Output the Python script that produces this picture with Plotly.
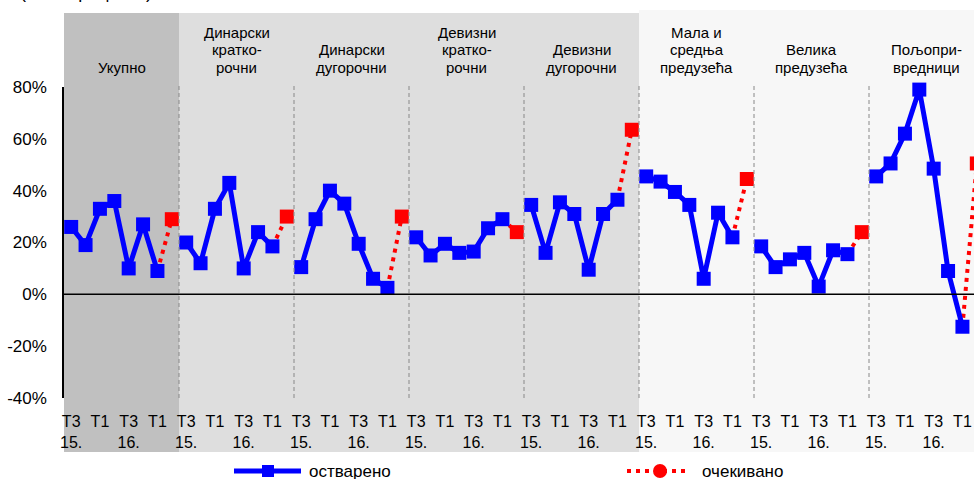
import plotly.graph_objects as go

# survey groups (header labels) and the quarters shown on the axis
groups = ["Укупно", "Динарски<br>кратко-<br>рочни", "Динарски<br>дугорочни",
          "Девизни<br>кратко-<br>рочни", "Девизни<br>дугорочни",
          "Мала и<br>средња<br>предузећа", "Велика<br>предузећа",
          "Пољопри-<br>вредници"]
quarters = ["T3<br>15.", "", "T1", "", "T3<br>16.", "", "T1", ""]
y_ticks = [-40, -20, 0, 20, 40, 60, 80]

# realised values (7 quarters per group) and expected value (next quarter)
actual = [
    [26, 19, 33, 36, 10, 27, 9],
    [20, 12, 33, 43, 10, 24, 18.5],
    [10.5, 29, 40, 35, 19.5, 6, 2.5],
    [22, 15, 19.5, 16, 16.5, 25.5, 29],
    [34.5, 16, 35.5, 31, 9.5, 31, 36.5],
    [45.5, 43.5, 39.5, 34.5, 6, 31.5, 22],
    [18.5, 10.5, 13.5, 16, 3, 17, 15.5],
    [45.5, 50.5, 62, 79, 48.5, 9, -12.5],
]
expected = [29, 30, 30, 24, 63.5, 44.5, 24, 50.5]

n = len(quarters)
blue_x, blue_y = [], []
red_x, red_y = [], []
exp_x = []
for g, vals in enumerate(actual):
    xs = [g * n + i for i in range(len(vals))]
    blue_x += xs + [None]
    blue_y += vals + [None]
    red_x += [xs[-1], g * n + n - 1, None]
    red_y += [vals[-1], expected[g], None]
    exp_x.append(g * n + n - 1)

fig = go.Figure()
fig.add_trace(go.Scatter(x=red_x, y=red_y, mode="lines", showlegend=False,
                         line=dict(color="#ff0000", width=4, dash="4px,5px"),
                         cliponaxis=False))
fig.add_trace(go.Scatter(x=blue_x, y=blue_y, mode="lines+markers", showlegend=False,
                         line=dict(color="#0000ff", width=5),
                         marker=dict(symbol="square", size=14, color="#0000ff"),
                         cliponaxis=False))
fig.add_trace(go.Scatter(x=exp_x, y=expected, mode="markers", showlegend=False,
                         marker=dict(symbol="square", size=14, color="#ff0000"),
                         cliponaxis=False))

W, H = 984, 479
L, T, B = 64, 87, 81
plot_w = W - L
plot_h = H - T - B


def px(v):
    return (v - L) / plot_w


def py(v):
    return (H - B - v) / plot_h


shapes = []
# group backgrounds
bands = [(0, 1, "#c0c0c0", 13), (1, 5, "#dedede", 13), (5, 8, "#f7f7f7", 10)]
for g0, g1, col, top in bands:
    shapes.append(dict(type="rect", xref="x", yref="paper", x0=g0 * n - 0.5, x1=g1 * n - 0.5,
                       y0=py(452), y1=py(top), fillcolor=col, line=dict(width=0), layer="below"))
# dashed separators
for g in range(1, len(groups)):
    shapes.append(dict(type="line", xref="x", yref="paper", x0=g * n - 0.5, x1=g * n - 0.5,
                       y0=0, y1=py(84), line=dict(color="#888888", width=1, dash="4px,3px")))
# zero line
shapes.append(dict(type="line", xref="paper", yref="y", x0=0, x1=1, y0=0, y1=0,
                   line=dict(color="black", width=1.5)))

# legend drawn by hand
shapes.append(dict(type="line", xref="paper", yref="paper", x0=px(234), x1=px(301),
                   y0=py(471), y1=py(471), line=dict(color="#0000ff", width=5)))
shapes.append(dict(type="rect", xref="paper", yref="paper", x0=px(262), x1=px(274),
                   y0=py(477), y1=py(465), fillcolor="#0000ff", line=dict(width=0)))
shapes.append(dict(type="line", xref="paper", yref="paper", x0=px(627), x1=px(688),
                   y0=py(471), y1=py(471), line=dict(color="#ff0000", width=4, dash="4px,5px")))
shapes.append(dict(type="circle", xref="paper", yref="paper", x0=px(653), x1=px(667),
                   y0=py(478), y1=py(464), fillcolor="#ff0000", line=dict(width=0)))

annotations = []
# group headers, one annotation per line so the line spacing stays tight
for g, name in enumerate(groups):
    lines = name.split("<br>")
    for k, line in enumerate(reversed(lines)):
        annotations.append(dict(x=g * n + (n - 1) / 2, y=py(67 - 17.5 * k), xref="x",
                                yref="paper", text=line, showarrow=False, yanchor="middle",
                                font=dict(size=15, color="black")))
annotations.append(dict(x=px(307), y=py(471), xref="paper", yref="paper", text="остварено",
                        showarrow=False, xanchor="left", yanchor="middle",
                        font=dict(size=17, color="black")))
annotations.append(dict(x=px(700), y=py(471), xref="paper", yref="paper", text="очекивано",
                        showarrow=False, xanchor="left", yanchor="middle",
                        font=dict(size=17, color="black")))
annotations.append(dict(x=px(18), y=py(4), xref="paper", yref="paper", text="(нето проценат)",
                        showarrow=False, xanchor="left", yanchor="bottom",
                        font=dict(size=18, color="black")))

fig.update_layout(
    width=W, height=H,
    margin=dict(l=L, r=0, t=T, b=B),
    paper_bgcolor="white", plot_bgcolor="rgba(0,0,0,0)",
    font=dict(family="Arial, Liberation Sans, sans-serif", size=16, color="black"),
    showlegend=False,
    shapes=shapes, annotations=annotations,
    xaxis=dict(range=[-0.5, n * len(groups) - 0.5], tickmode="array",
               tickvals=list(range(n * len(groups))), ticktext=quarters * len(groups),
               showgrid=False, zeroline=False, showline=False, ticks="",
               ticklabelstandoff=12, tickangle=0, automargin=False),
    yaxis=dict(range=[-40, 80], tickmode="array", tickvals=y_ticks,
               ticktext=[f"{v}%" for v in y_ticks], tickfont=dict(size=17),
               showgrid=False, zeroline=False, showline=True, linecolor="black", linewidth=1.5,
               ticks="", ticklabelstandoff=12, automargin=False),
)

fig.write_html("out.html", config={"displayModeBar": False},
               post_script="document.body.style.margin='0';document.body.style.overflow='hidden';")
